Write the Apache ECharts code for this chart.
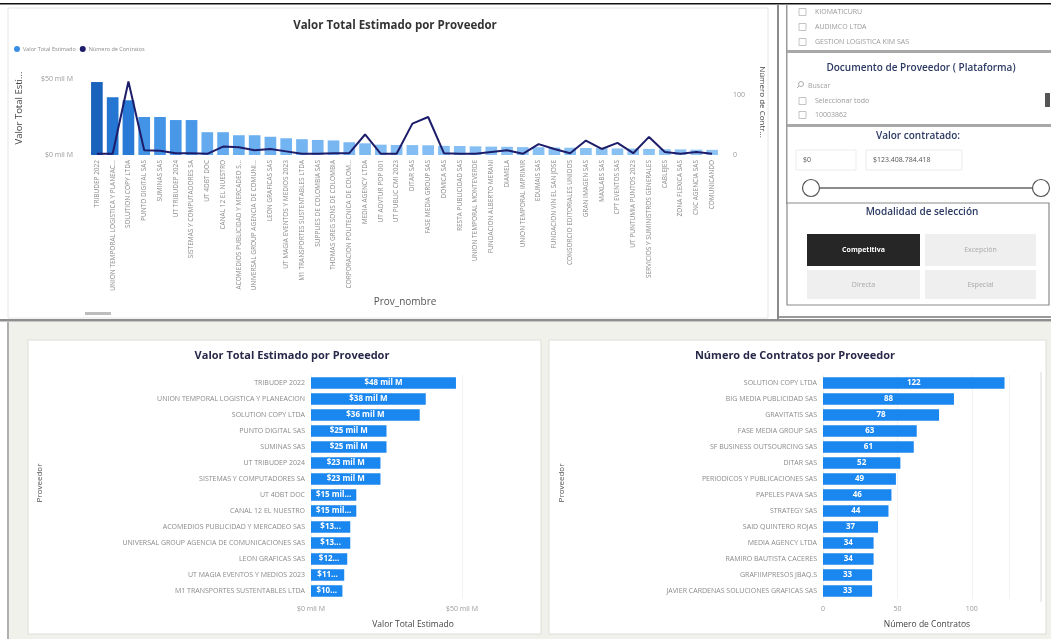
<!DOCTYPE html>
<html><head><meta charset="utf-8">
<script src="https://cdn.jsdelivr.net/npm/echarts@6/dist/echarts.min.js"></script>
<style>html,body{margin:0;padding:0;background:#fff}#c{width:1051px;height:639px}</style>
</head><body><div id="c"></div><script>
const topCategories = ['TRIBUDEP 2022','UNION TEMPORAL LOGISTICA Y PLANEACION','SOLUTION COPY LTDA','PUNTO DIGITAL SAS','SUMINAS SAS','UT TRIBUDEP 2024','SISTEMAS Y COMPUTADORES SA','UT 4DBT DOC','CANAL 12 EL NUESTRO','ACOMEDIOS PUBLICIDAD Y MERCADEO SAS','UNIVERSAL GROUP AGENCIA DE COMUNICACIONES','LEON GRAFICAS SAS','UT MAGIA EVENTOS Y MEDIOS 2023','M1 TRANSPORTES SUSTENTABLES LTDA','SUPPLIES DE COLOMBIA SAS','THOMAS GREG SONS DE COLOMBIA','CORPORACION POLITECNICA DE COLOMBIA','MEDIA AGENCY LTDA','UT ADVTUR POP 001','UT PUBLIC CMI 2023','DITAR SAS','FASE MEDIA GROUP SAS','DOMICA SAS','RESTA PUBLICIDAD SAS','UNION TEMPORAL MONTEVERDE','FUNDACION ALBERTO MERANI','DIAMELA','UNION TEMPORAL IMPRIMIR','EDUMAIS SAS','FUNDACION VIN EL SAN JOSE','CONSORCIO EDITORIALES UNIDOS','GRAN IMAGEN SAS','MAXLABS SAS','CPT EVENTOS SAS','UT PUNTUMIA PUNTOS 2023','SERVICIOS Y SUMINISTROS GENERALES','CABLEJES','ZONA FLEXICA SAS','CNC AGENCIA SAS','COMUNICANDO'];
const topValor = [48,38,36,25,25,23,23,15,15,13,13,12,11,10.4,9.9,9.6,8.4,7.7,6.8,6.6,6.5,6.4,6.0,5.9,5.7,5.5,5.4,5.2,5.1,4.9,4.8,4.6,4.5,4.3,4.2,4.0,3.8,3.7,3.5,3.4];
const topContratos = [2,2,122,8,7,3,3,2,14,13,8,10,6,2,2,3,3,34,2,2,52,63,3,2,2,5,8,2,18,10,3,24,10,20,3,30,5,2,5,2];
const topValorTicks = [0,50];
const topContratosTicks = [0,100];

const valorCats = ['TRIBUDEP 2022','UNION TEMPORAL LOGISTICA Y PLANEACION','SOLUTION COPY LTDA','PUNTO DIGITAL SAS','SUMINAS SAS','UT TRIBUDEP 2024','SISTEMAS Y COMPUTADORES SA','UT 4DBT DOC','CANAL 12 EL NUESTRO','ACOMEDIOS PUBLICIDAD Y MERCADEO SAS','UNIVERSAL GROUP AGENCIA DE COMUNICACIONES SAS','LEON GRAFICAS SAS','UT MAGIA EVENTOS Y MEDIOS 2023','M1 TRANSPORTES SUSTENTABLES LTDA'];
const valorVals = [48,38,36,25,25,23,23,15,15,13,13,12,11,10.4];

const contratosCats = ['SOLUTION COPY LTDA','BIG MEDIA PUBLICIDAD SAS','GRAVITATIS SAS','FASE MEDIA GROUP SAS','SF BUSINESS OUTSOURCING SAS','DITAR SAS','PERIODICOS Y PUBLICACIONES SAS','PAPELES PAVA SAS','STRATEGY SAS','SAID QUINTERO ROJAS','MEDIA AGENCY LTDA','RAMIRO BAUTISTA CACERES','GRAFIIMPRESOS JBAQ.S','JAVIER CARDENAS SOLUCIONES GRAFICAS SAS'];
const contratosVals = [122,88,78,63,61,52,49,46,44,37,34,34,33,33];

const slicerProveedores = ['KIOMATICURU','AUDIMCO LTDA','GESTION LOGISTICA KIM SAS'];
const slicerDocumentos = ['Seleccionar todo','10003862'];
const rangoValor = ['$0','$123.408.784.418'];
const modalidades = ['Competitiva','Excepción','Directa','Especial'];

const F = 'Open Sans, DejaVu Sans, sans-serif';
const chart = echarts.init(document.getElementById('c'), null, {renderer:'canvas'});

function money(v){ return '$' + v + ' mil M'; }
function barLabel(v){
  const r = Math.round(v);
  if (v >= 20) return '$' + r + ' mil M';
  if (v >= 14) return '$' + r + ' mil...';
  return '$' + r + '...';
}

const g = [];
// frames
g.push({type:'rect', shape:{x:0,y:3,width:1051,height:1.5}, style:{fill:'#111'}, z:-5});
g.push({type:'rect', shape:{x:8,y:8,width:760,height:310}, style:{fill:'#fff',stroke:'#e6e6e6',lineWidth:1}, z:-5});
g.push({type:'rect', shape:{x:85,y:312,width:26,height:3}, style:{fill:'#bdbdbd'}, z:-4});
g.push({type:'rect', shape:{x:8,y:322,width:1043,height:317}, style:{fill:'#f1f1ec'}, z:-6});
g.push({type:'rect', shape:{x:0,y:319,width:1051,height:2.5}, style:{fill:'#8e8e8e'}, z:-4});
g.push({type:'rect', shape:{x:7,y:322,width:2,height:317}, style:{fill:'#b0b0b0'}, z:-4});
g.push({type:'rect', shape:{x:28,y:340,width:513,height:294}, style:{fill:'#fff',stroke:'#deded8',lineWidth:1}, z:-5});
g.push({type:'rect', shape:{x:549,y:340,width:497,height:294}, style:{fill:'#fff',stroke:'#deded8',lineWidth:1}, z:-5});
g.push({type:'rect', shape:{x:1040,y:372,width:2,height:230}, style:{fill:'#ececec'}, z:-4});
// right panel
g.push({type:'rect', shape:{x:777,y:4,width:2,height:316}, style:{fill:'#8a8a8a'}, z:-4});
g.push({type:'rect', shape:{x:786,y:4,width:1.5,height:200}, style:{fill:'#9a9a9a'}, z:-4});
g.push({type:'rect', shape:{x:787,y:50,width:264,height:3}, style:{fill:'#a8a8a8'}, z:-4});
g.push({type:'rect', shape:{x:787,y:124,width:264,height:3}, style:{fill:'#a8a8a8'}, z:-4});
g.push({type:'rect', shape:{x:787,y:203,width:262,height:102}, style:{fill:'#fff',stroke:'#8a8a8a',lineWidth:1.2}, z:-4});
g.push({type:'rect', shape:{x:779,y:316,width:272,height:2}, style:{fill:'#9a9a9a'}, z:-4});
// slicer 1 items
slicerProveedores.forEach((t,i)=>{
  const y = 12 + i*15;
  g.push({type:'rect', shape:{x:799,y:y-3.5,width:7,height:7}, style:{fill:'#fff',stroke:'#b5b5b5',lineWidth:0.8}});
  g.push({type:'text', style:{text:t,x:815,y:y,fill:'#9a9a9a',font:'7px '+F,verticalAlign:'middle'}});
});
// slicer 2
g.push({type:'text', style:{text:'Documento de Proveedor ( Plataforma)',x:921,y:68,fill:'#2c3a63',font:'600 10px '+F,align:'center',verticalAlign:'middle'}});
g.push({type:'circle', shape:{cx:801,cy:84,r:2.5}, style:{fill:'none',stroke:'#999',lineWidth:0.8}});
g.push({type:'line', shape:{x1:799,y1:86,x2:797,y2:88}, style:{stroke:'#999',lineWidth:0.8}});
g.push({type:'text', style:{text:'Buscar',x:808,y:86,fill:'#a0a0a0',font:'7px '+F,verticalAlign:'middle'}});
slicerDocumentos.forEach((t,i)=>{
  const y = 101 + i*14;
  g.push({type:'rect', shape:{x:799,y:y-3.5,width:7,height:7}, style:{fill:'#fff',stroke:'#b5b5b5',lineWidth:0.8}});
  g.push({type:'text', style:{text:t,x:815,y:y,fill:'#9a9a9a',font:'7px '+F,verticalAlign:'middle'}});
});
g.push({type:'rect', shape:{x:1045,y:93,width:5,height:14}, style:{fill:'#555'}});
// slicer 3
g.push({type:'text', style:{text:'Valor contratado:',x:918,y:136,fill:'#2c3a63',font:'600 10px '+F,align:'center',verticalAlign:'middle'}});
g.push({type:'rect', shape:{x:796,y:150,width:60,height:20}, style:{fill:'#fff',stroke:'#ececec'}});
g.push({type:'rect', shape:{x:866,y:150,width:96,height:20}, style:{fill:'#fff',stroke:'#ececec'}});
g.push({type:'text', style:{text:rangoValor[0],x:803,y:160,fill:'#555',font:'7px '+F,verticalAlign:'middle'}});
g.push({type:'text', style:{text:rangoValor[1],x:873,y:160,fill:'#555',font:'7px '+F,verticalAlign:'middle'}});
g.push({type:'line', shape:{x1:818,y1:188,x2:1034,y2:188}, style:{stroke:'#666',lineWidth:1.5}});
g.push({type:'circle', shape:{cx:811,cy:188,r:8.5}, style:{fill:'#fff',stroke:'#555',lineWidth:1.2}});
g.push({type:'circle', shape:{cx:1041,cy:188,r:8.5}, style:{fill:'#fff',stroke:'#555',lineWidth:1.2}});
// slicer 4
g.push({type:'text', style:{text:'Modalidad de selección',x:922,y:212,fill:'#2c3a63',font:'600 10px '+F,align:'center',verticalAlign:'middle'}});
const btn = [[807,234,113,32],[925,234,111,32],[807,270,113,29],[925,270,111,29]];
modalidades.forEach((t,i)=>{
  const b = btn[i];
  const sel = i===0;
  g.push({type:'rect', shape:{x:b[0],y:b[1],width:b[2],height:b[3]}, style:{fill: sel?'#262626':'#efefef'}});
  g.push({type:'text', style:{text:t,x:b[0]+b[2]/2,y:b[1]+b[3]/2,fill: sel?'#fff':'#a8a8a8',font:(sel?'bold ':'')+'7px '+F,align:'center',verticalAlign:'middle'}});
});
// axis names
g.push({type:'text', x:19, y:108, rotation:Math.PI/2, style:{text:'Valor Total Esti...',x:0,y:0,fill:'#444',font:'9.5px '+F,align:'center',verticalAlign:'middle'}});
g.push({type:'text', x:762, y:102, rotation:-Math.PI/2, style:{text:'Número de Contr...',x:0,y:0,fill:'#444',font:'8px '+F,align:'center',verticalAlign:'middle'}});
g.push({type:'text', style:{text:'Prov_nombre',x:405,y:302,fill:'#555',font:'10px '+F,align:'center',verticalAlign:'middle'}});
g.push({type:'text', x:40, y:483, rotation:Math.PI/2, style:{text:'Proveedor',x:0,y:0,fill:'#555',font:'8px '+F,align:'center',verticalAlign:'middle'}});
g.push({type:'text', x:562, y:483, rotation:Math.PI/2, style:{text:'Proveedor',x:0,y:0,fill:'#555',font:'8px '+F,align:'center',verticalAlign:'middle'}});
g.push({type:'text', style:{text:'Valor Total Estimado',x:413,y:625,fill:'#444',font:'8.5px '+F,align:'center',verticalAlign:'middle'}});
g.push({type:'text', style:{text:'Número de Contratos',x:927,y:625,fill:'#444',font:'8.5px '+F,align:'center',verticalAlign:'middle'}});

const option = {
  animation:false,
  textStyle:{fontFamily:F},
  graphic:g,
  title:[
    {text:'Valor Total Estimado por Proveedor', left:390, top:15, textAlign:'center', textStyle:{fontSize:11.5,fontWeight:'bold',color:'#333',fontFamily:F}},
    {text:'Valor Total Estimado por Proveedor', left:287, top:345, textAlign:'center', textStyle:{fontSize:11,fontWeight:'bold',color:'#28284a',fontFamily:F}},
    {text:'Número de Contratos por Proveedor', left:790, top:345, textAlign:'center', textStyle:{fontSize:11,fontWeight:'bold',color:'#28284a',fontFamily:F}}
  ],
  legend:{data:['Valor Total Estimado','Número de Contratos'], left:9, top:41, icon:'circle', itemWidth:6, itemHeight:6, itemGap:4, textStyle:{fontSize:5.5,color:'#8a8a8a',fontFamily:F,padding:[0,0,0,-2]}},
  visualMap:{show:false, seriesIndex:0, min:3, max:48, inRange:{color:['#8fc4f4','#58a4ee','#2b80dc','#1a63bd']}},
  grid:[
    {left:89, right:331, top:79, bottom:484},
    {left:311, right:589, top:375, bottom:40},
    {left:823, right:42, top:375, bottom:40}
  ],
  xAxis:[
    {type:'category', gridIndex:0, data:topCategories, axisLine:{show:false}, axisTick:{show:false},
     axisLabel:{interval:0, rotate:90, fontSize:6.5, color:'#8a8a8a', margin:5, width:132, overflow:'truncate', ellipsis:'...'}},
    {type:'value', gridIndex:1, min:0, max:50, interval:50, axisLabel:{fontSize:7,color:'#999',formatter:money, margin:6}, splitLine:{lineStyle:{color:'#f2f2f2'}}},
    {type:'value', gridIndex:2, min:0, max:125, interval:50, axisLabel:{fontSize:7,color:'#999', showMaxLabel:false, margin:6}, splitLine:{lineStyle:{color:'#f2f2f2'}}}
  ],
  yAxis:[
    {type:'value', gridIndex:0, min:topValorTicks[0], max:topValorTicks[1], interval:50, splitLine:{show:false}, axisLabel:{fontSize:7,color:'#999',formatter:money,margin:16}},
    {type:'value', gridIndex:0, position:'right', min:0, max:126, interval:topContratosTicks[1], splitLine:{show:false}, axisLabel:{fontSize:7,color:'#999',showMaxLabel:false,margin:13}},
    {type:'category', gridIndex:1, data:valorCats, inverse:true, axisLine:{show:false}, axisTick:{show:false}, axisLabel:{fontSize:7,color:'#8a8a8a',margin:6,interval:0}},
    {type:'category', gridIndex:2, data:contratosCats, inverse:true, axisLine:{show:false}, axisTick:{show:false}, axisLabel:{fontSize:7,color:'#8a8a8a',margin:6,interval:0}}
  ],
  series:[
    {name:'Valor Total Estimado', type:'bar', xAxisIndex:0, yAxisIndex:0, data:topValor, barCategoryGap:'26%', itemStyle:{color:'#3a8ee6'}},
    {name:'Número de Contratos', type:'line', xAxisIndex:0, yAxisIndex:1, data:topContratos, symbol:'none', lineStyle:{color:'#1d1d6b',width:2}, itemStyle:{color:'#1d1d6b'}, z:5},
    {type:'bar', xAxisIndex:1, yAxisIndex:2, data:valorVals, barCategoryGap:'28%', itemStyle:{color:'#1a87f0'},
     label:{show:true, position:'inside', color:'#fff', fontSize:8, fontWeight:'bold', formatter:p=>barLabel(p.value)}},
    {type:'bar', xAxisIndex:2, yAxisIndex:3, data:contratosVals, barCategoryGap:'28%', itemStyle:{color:'#1a87f0'},
     label:{show:true, position:'inside', color:'#fff', fontSize:8, fontWeight:'bold'}}
  ]
};
chart.setOption(option);
</script></body></html>
